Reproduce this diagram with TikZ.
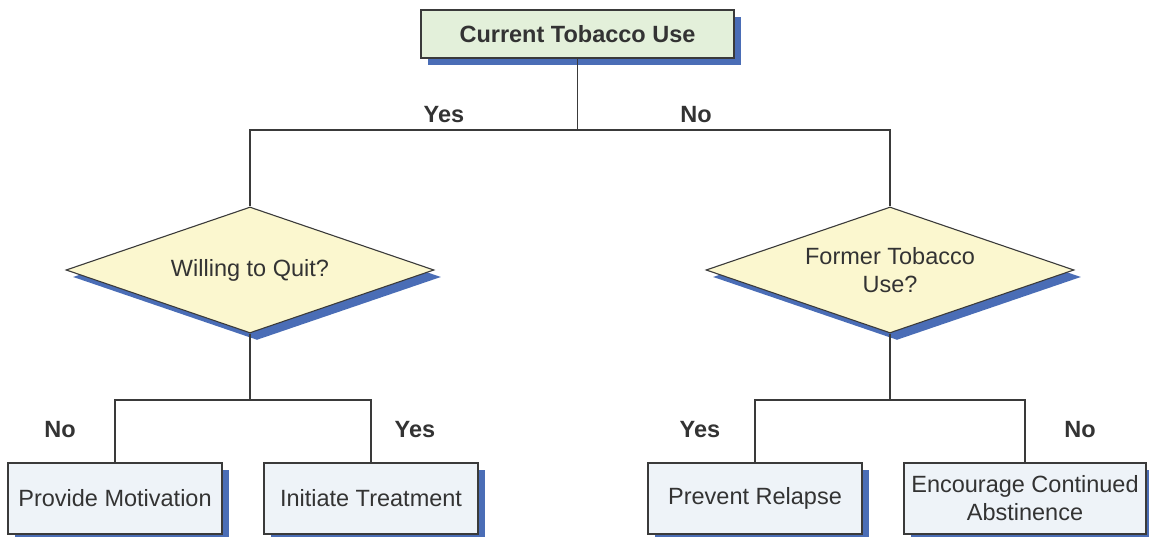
\documentclass[tikz,border=0pt]{standalone}
\usepackage{fontspec}
\setmainfont{Liberation Sans}
\usetikzlibrary{shapes.geometric,shadows}
\definecolor{edgegray}{HTML}{3A3A3A}
\definecolor{textgray}{HTML}{333333}
\definecolor{shadowblue}{HTML}{4A6DB6}
\definecolor{startfill}{HTML}{E3F0DA}
\definecolor{decisionfill}{HTML}{FBF7CF}
\definecolor{actionfill}{HTML}{EEF3F8}
\begin{document}
\begin{tikzpicture}[x=1pt,y=-1pt,
  every node/.style={text=textgray,font=\fontsize{23.5}{28}\selectfont},
  blueshadow/.style={general shadow={shadow xshift=7pt,shadow yshift=-7pt,fill=shadowblue}},
  startbox/.style={draw=edgegray,line width=1.4pt,fill=startfill,blueshadow,
    minimum width=313pt,minimum height=48pt,inner sep=0pt,font=\fontsize{23.5}{28}\selectfont\bfseries},
  decision/.style={shape=diamond,draw=edgegray,line width=1.1pt,fill=decisionfill,blueshadow,
    aspect=2.92,minimum width=368pt,minimum height=126pt,inner sep=0pt,align=center},
  actionbox/.style={draw=edgegray,line width=1.4pt,fill=actionfill,blueshadow,
    minimum width=214pt,minimum height=71pt,inner sep=0pt,align=center},
  branch/.style={font=\fontsize{23.5}{28}\selectfont\bfseries},
  link/.style={draw=edgegray,line width=1.3pt}
]
\useasboundingbox (0,0) rectangle (1149,537);

% top question
\node[startbox] (top) at (577.5,34) {Current Tobacco Use};

% decisions
\node[decision] (ld) at (250,270) {Willing to Quit?};
\node[decision] (rd) at (890,270) {Former Tobacco\\Use?};

% outcomes
\node[actionbox] (b1) at (115,498.5) {Provide Motivation};
\node[actionbox] (b2) at (371,498.5) {Initiate Treatment};
\node[actionbox] (b3) at (755,498.5) {Prevent Relapse};
\node[actionbox,minimum width=242pt] (b4) at (1025,498.5) {Encourage Continued\\Abstinence};

% junction points
\coordinate (j) at (577.5,130);
\coordinate (jl) at (250,400);
\coordinate (jr) at (890,400);

% connectors
\draw[link] (top.south) -- (j);
\draw[link] (j) -| (ld.north);
\draw[link] (j) -| (rd.north);
\draw[link] (ld.south) -- (jl);
\draw[link] (jl) -| (b1.north);
\draw[link] (jl) -| (b2.north);
\draw[link] (rd.south) -- (jr);
\draw[link] (jr) -| (b3.north);
\draw[link] (jr) -| (b4.north);

% branch labels
\node[branch] (lyes) at (444,115) {Yes};
\node[branch] (rno) at (696,115) {No};
\node[branch] (llno) at (60,430) {No};
\node[branch] (lryes) at (415,430) {Yes};
\node[branch] (rlyes) at (700,430) {Yes};
\node[branch] (rrno) at (1080,430) {No};
\end{tikzpicture}
\end{document}
